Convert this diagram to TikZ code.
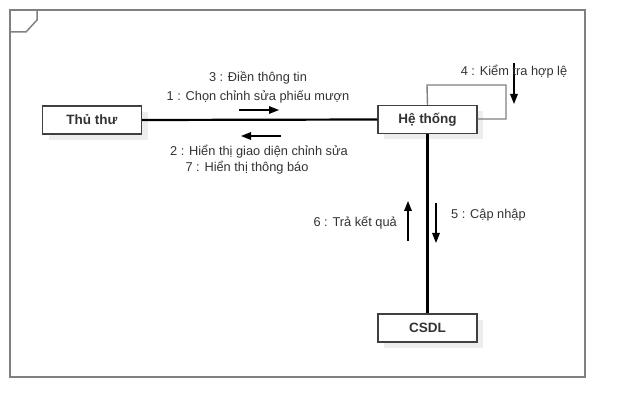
\documentclass[tikz,border=0pt]{standalone}
\usepackage{fontspec}
\setmainfont{Liberation Sans}
\usetikzlibrary{arrows.meta,shadows}
\definecolor{framegray}{HTML}{808080}
\definecolor{boxline}{HTML}{404040}
\definecolor{shadowgray}{HTML}{EDEDED}
\definecolor{txtgray}{HTML}{333333}
\tikzset{
  objbox/.style={draw=boxline, line width=1.3pt, fill=white, minimum width=99pt, minimum height=28pt,
    font=\fontsize{13.5}{15}\selectfont\bfseries, inner sep=0pt, text=txtgray,
    drop shadow={shadow xshift=6pt, shadow yshift=-6pt, fill=shadowgray, opacity=1}},
  link/.style={draw=black, line width=2.2pt},
  msg/.style={draw=black, line width=1.5pt, -{Triangle[length=10pt,width=7.5pt]}},
  lbl/.style={font=\fontsize{12.8}{14}\selectfont, inner sep=0pt, text=txtgray},
}
\begin{document}
\begin{tikzpicture}[x=1pt,y=-1pt]
\useasboundingbox (0,0) rectangle (625,417);
% frame
\draw[framegray, line width=1.8pt] (10,10) rectangle (585,377);
\draw[framegray, line width=1.5pt] (10,10) -- (37,10) -- (37,20) -- (26,32) -- (10,32);
% nodes
\node[objbox] (thu) at (92,120) {Thủ thư};
\node[objbox] (ht) at (427.5,119.5) {Hệ thống};
\node[objbox] (db) at (427.5,328) {CSDL};
% connectors
\draw[link] (thu.east) -- (ht.west);
\draw[link] (ht.south) -- (db.north);
\coordinate (l1) at (427,85);
\coordinate (l2) at (506,85);
\coordinate (l3) at (506,119);
\draw[framegray, line width=1.4pt] (ht.north) -- (l1) -- (l2) -- (l3) -- (ht.east |- l3);
% message arrows
\coordinate (a1s) at (239,110); \coordinate (a1e) at (279,110);
\draw[msg] (a1s) -- (a1e);
\coordinate (a2s) at (281,136); \coordinate (a2e) at (241,136);
\draw[msg] (a2s) -- (a2e);
\coordinate (a4s) at (514,63); \coordinate (a4e) at (514,104);
\draw[msg] (a4s) -- (a4e);
\coordinate (a6s) at (408,241); \coordinate (a6e) at (408,201);
\draw[msg] (a6s) -- (a6e);
\coordinate (a5s) at (436,203); \coordinate (a5e) at (436,243);
\draw[msg] (a5s) -- (a5e);
% labels
\node[lbl] (t3) at (258,78) {3 : Điền thông tin};
\node[lbl] (t1) at (258,97) {1 : Chọn chỉnh sửa phiếu mượn};
\node[lbl] (t2) at (259,152) {2 : Hiển thị giao diện chỉnh sửa};
\node[lbl] (t7) at (247,168) {7 : Hiển thị thông báo};
\node[lbl] (t4) at (514,72) {4 : Kiểm tra hợp lệ};
\node[lbl, anchor=east] (t6) at (397,223) {6 : Trả kết quả};
\node[lbl, anchor=west] (t5) at (451,215) {5 : Cập nhập};
\end{tikzpicture}
\end{document}
